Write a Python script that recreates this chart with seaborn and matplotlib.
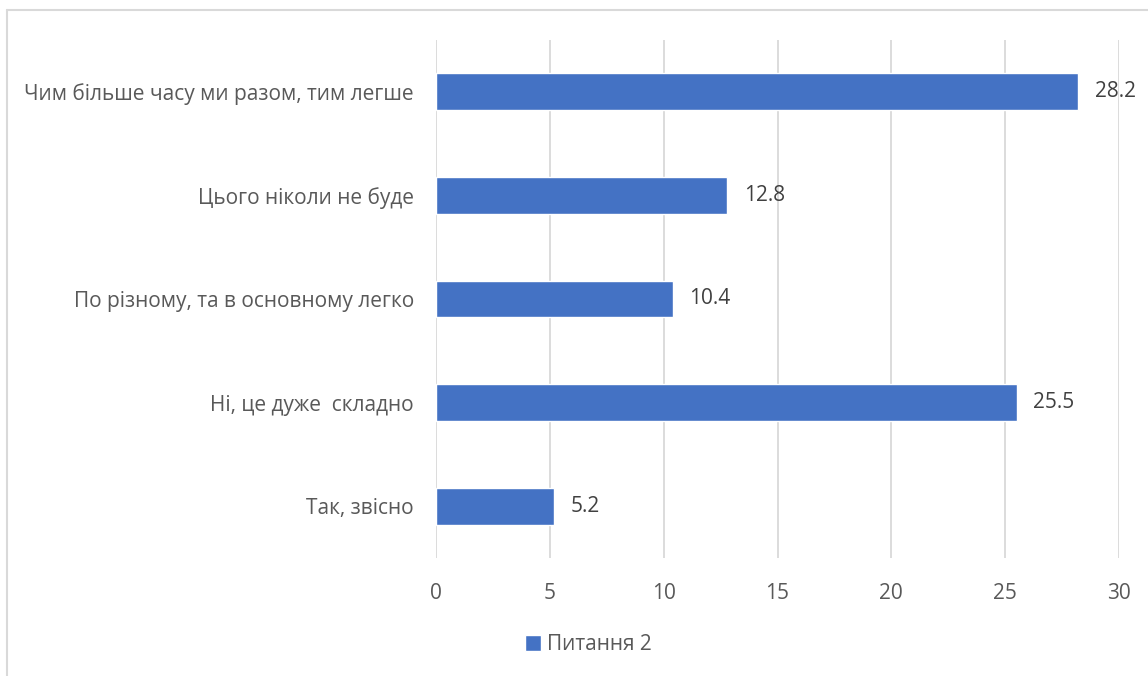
import matplotlib
matplotlib.use("Agg")
import matplotlib.pyplot as plt
import seaborn as sns
import pandas as pd
from matplotlib.lines import Line2D
from matplotlib.patches import Patch

categories = [
    "Чим більше часу ми разом, тим легше",
    "Цього ніколи не буде",
    "По різному, та в основному легко",
    "Ні, це дуже  складно",
    "Так, звісно",
]
values = [28.2, 12.8, 10.4, 25.5, 5.2]
x_ticks = [0, 5, 10, 15, 20, 25, 30]
series_name = "Питання 2"

BAR = "#4472C4"
TXT = "#595959"
LBL = "#404040"
GRID = "#D9D9D9"
FS = 15

sns.set_theme(style="white")
plt.rcParams["font.family"] = ["Open Sans", "DejaVu Sans"]

df = pd.DataFrame({"cat": categories, "val": values})

fig = plt.figure(figsize=(11.48, 6.76), dpi=100)
ax = fig.add_axes([436 / 1148, 1 - 558 / 676, (1119 - 436) / 1148, (558 - 40) / 676])

sns.barplot(data=df, x="val", y="cat", orient="h", color=BAR, width=0.354,
            saturation=1, ax=ax, order=categories, zorder=3)

ax.set_xlim(0, 30)
ax.set_xticks(x_ticks)
ax.set_xticklabels([str(t) for t in x_ticks])
ax.grid(axis="x", color=GRID, linewidth=1.3, zorder=0)
ax.set_axisbelow(True)
for s in ax.spines.values():
    s.set_visible(False)
ax.set_xlabel("")
ax.set_ylabel("")
ax.tick_params(axis="y", length=0, pad=16, labelsize=FS, labelcolor=TXT)
ax.tick_params(axis="x", length=0, pad=18, labelsize=FS, labelcolor=TXT)

for cont in ax.containers:
    ax.bar_label(cont, labels=[f"{v:.1f}" for v in values], padding=12,
                 fontsize=FS, color=LBL)

fig.legend(handles=[Patch(facecolor=BAR, label=series_name)],
           loc="center", bbox_to_anchor=(588 / 1148, 1 - 645 / 676),
           frameon=False, fontsize=FS, labelcolor=TXT,
           handlelength=0.8, handleheight=0.8, handletextpad=0.25)

# chart area border (left and top visible)
fig.add_artist(Line2D([7 / 1148, 7 / 1148], [0, 1 - 10 / 676], transform=fig.transFigure,
                      color=GRID, linewidth=1.5))
fig.add_artist(Line2D([7 / 1148, 1], [1 - 10 / 676, 1 - 10 / 676], transform=fig.transFigure,
                      color=GRID, linewidth=1.5))

fig.savefig("out.png", dpi=100)
